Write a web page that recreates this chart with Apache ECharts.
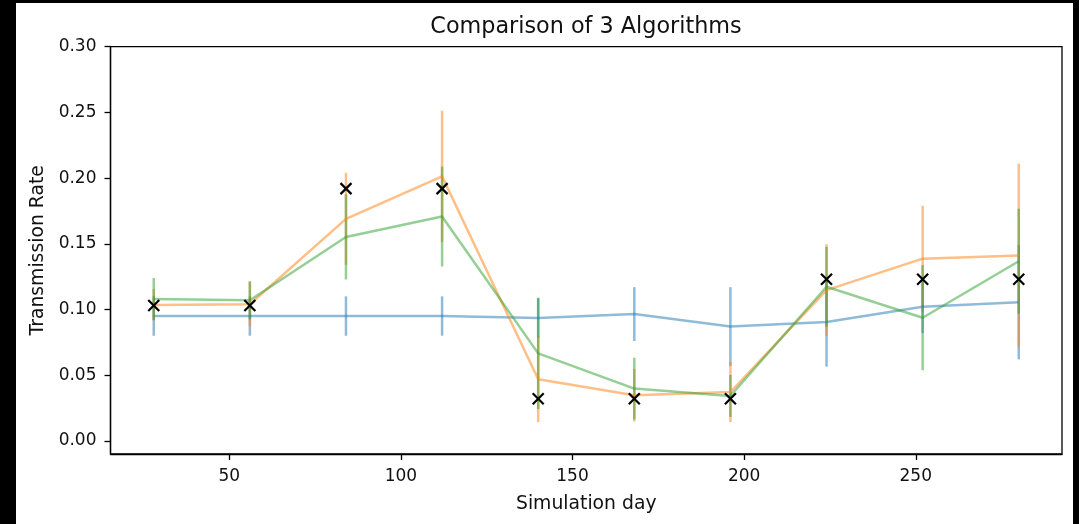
<!DOCTYPE html>
<html>
<head>
<meta charset="utf-8">
<script src="https://cdn.jsdelivr.net/npm/echarts@6/dist/echarts.min.js"></script>
<style>
  html, body { margin: 0; padding: 0; background: #000; }
  #chart { position: absolute; left: 16px; top: 3px; width: 1057px; height: 521px; background: #fff; }
</style>
</head>
<body>
<div id="chart"></div>
<script>
// 模拟天数（x 轴）
const days = [28, 56, 84, 112, 140, 168, 196, 224, 252, 280]
// 真实值（黑色 x 标记）
const truth = [0.103, 0.103, 0.192, 0.192, 0.032, 0.032, 0.032, 0.123, 0.123, 0.123]
// 三种算法的均值与误差
const blueMean = [0.095, 0.095, 0.095, 0.095, 0.0935, 0.0965, 0.087, 0.0905, 0.102, 0.1055]
const blueErr = [0.015, 0.015, 0.015, 0.015, 0.015, 0.0205, 0.030, 0.034, 0.020, 0.0435]
const orangeMean = [0.1035, 0.104, 0.169, 0.2013, 0.0469, 0.0347, 0.0372, 0.1147, 0.1387, 0.141]
const orangeErr = [0.012, 0.017, 0.035, 0.050, 0.0327, 0.020, 0.023, 0.035, 0.0403, 0.070]
const greenMean = [0.108, 0.107, 0.1552, 0.1707, 0.0666, 0.0398, 0.0342, 0.1173, 0.0937, 0.1367]
const greenErr = [0.016, 0.0145, 0.0324, 0.038, 0.0424, 0.0235, 0.016, 0.0303, 0.040, 0.040]
// 刻度
const xTicks = [50, 100, 150, 200, 250]
const yTicks = [0, 0.05, 0.10, 0.15, 0.20, 0.25, 0.30]

const font = 'DejaVu Sans'
const chart = echarts.init(document.getElementById('chart'))

// 折线
function lineSeries(mean, color) {
  return {
    type: 'line',
    data: days.map((d, i) => [d, mean[i]]),
    symbol: 'none',
    lineStyle: { color: color, width: 2.5, opacity: 0.5 },
    silent: true
  }
}

// 误差棒（竖线）
function errSeries(mean, err, color) {
  return {
    type: 'custom',
    data: days.map((d, i) => [d, mean[i] - err[i], mean[i] + err[i]]),
    renderItem: function (params, api) {
      const lo = api.coord([api.value(0), api.value(1)])
      const hi = api.coord([api.value(0), api.value(2)])
      return {
        type: 'line',
        shape: { x1: lo[0], y1: lo[1], x2: hi[0], y2: hi[1] },
        style: { stroke: color, lineWidth: 2.5, opacity: 0.5 }
      }
    },
    silent: true
  }
}

const option = {
  animation: false,
  grid: {
    left: 94.5, top: 43.7, right: 11, bottom: 70,
    show: true, borderColor: '#000', borderWidth: 1.3, backgroundColor: '#fff'
  },
  graphic: [{
    type: 'text',
    x: 570, y: 24.5,
    style: {
      text: 'Comparison of 3 Algorithms',
      font: '22.3px "DejaVu Sans"',
      fill: '#111',
      textAlign: 'center',
      textVerticalAlign: 'middle'
    }
  }],
  xAxis: {
    type: 'value', min: 15.4, max: 292.6,
    axisLine: { show: true, onZero: false, lineStyle: { color: '#000', width: 1.3 } },
    axisTick: { show: true, length: 6, customValues: xTicks, lineStyle: { color: '#000', width: 1.3 } },
    axisLabel: { customValues: xTicks, color: '#111', fontSize: 17, fontFamily: font, margin: 14 },
    splitLine: { show: false },
    name: 'Simulation day', nameLocation: 'middle', nameGap: 41,
    nameTextStyle: { color: '#111', fontSize: 18.8, fontFamily: font }
  },
  yAxis: {
    type: 'value', min: -0.01, max: 0.30,
    axisLine: { show: true, onZero: false, lineStyle: { color: '#000', width: 1.3 } },
    axisTick: { show: true, length: 6, customValues: yTicks, lineStyle: { color: '#000', width: 1.3 } },
    axisLabel: {
      customValues: yTicks, color: '#111', fontSize: 17, fontFamily: font, margin: 14,
      formatter: v => v.toFixed(2)
    },
    splitLine: { show: false },
    name: 'Transmission Rate', nameLocation: 'middle', nameGap: 63,
    nameTextStyle: { color: '#111', fontSize: 18.8, fontFamily: font }
  },
  series: [
    lineSeries(blueMean, '#1f77b4'),
    errSeries(blueMean, blueErr, '#1f77b4'),
    lineSeries(orangeMean, '#ff7f0e'),
    errSeries(orangeMean, orangeErr, '#ff7f0e'),
    lineSeries(greenMean, '#2ca02c'),
    errSeries(greenMean, greenErr, '#2ca02c'),
    {
      // 真实值 x 标记
      type: 'custom',
      data: days.map((d, i) => [d, truth[i]]),
      renderItem: function (params, api) {
        const p = api.coord([api.value(0), api.value(1)])
        const s = 5.5
        const st = { stroke: '#000', lineWidth: 2.2 }
        return {
          type: 'group',
          children: [
            { type: 'line', shape: { x1: p[0] - s, y1: p[1] - s, x2: p[0] + s, y2: p[1] + s }, style: st },
            { type: 'line', shape: { x1: p[0] - s, y1: p[1] + s, x2: p[0] + s, y2: p[1] - s }, style: st }
          ]
        }
      },
      silent: true,
      z: 10
    }
  ]
}
chart.setOption(option)
</script>
</body>
</html>
